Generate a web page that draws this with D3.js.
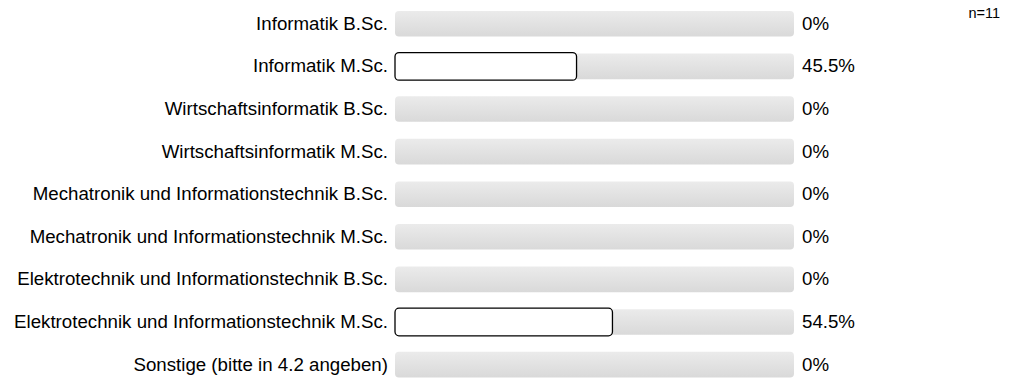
<script src="https://d3js.org/d3.v7.min.js"></script>
<style>
body { margin: 0; background: #fff; font-family: "Liberation Sans", Arial, sans-serif; }
svg text { font-family: "Liberation Sans", Arial, sans-serif; }
</style>
<svg id="chart" width="1017" height="379">
  <defs>
    <linearGradient id="track-grad" x1="0" y1="0" x2="0" y2="1">
      <stop offset="0%" stop-color="#ebebeb" />
      <stop offset="100%" stop-color="#d9d9d9" />
    </linearGradient>
  </defs>
</svg>
<script>
const categories = [
  "Informatik B.Sc.",
  "Informatik M.Sc.",
  "Wirtschaftsinformatik B.Sc.",
  "Wirtschaftsinformatik M.Sc.",
  "Mechatronik und Informationstechnik B.Sc.",
  "Mechatronik und Informationstechnik M.Sc.",
  "Elektrotechnik und Informationstechnik B.Sc.",
  "Elektrotechnik und Informationstechnik M.Sc.",
  "Sonstige (bitte in 4.2 angeben)"
];
const values = [0, 45.5, 0, 0, 0, 0, 0, 54.5, 0];
const valueLabels = ["0%", "45.5%", "0%", "0%", "0%", "0%", "0%", "54.5%", "0%"];
const nLabel = "n=11";

const svg = d3.select("#chart");
const trackLeft = 395, trackRight = 794;

const x = d3.scaleLinear().domain([0, 100]).range([trackLeft, trackRight]);
const y = d3.scaleBand().domain(categories).range([2.5, 385.9]).paddingInner(0.4).paddingOuter(0.2);

const rows = svg.selectAll("g.row").data(categories).join("g").attr("class", "row");

rows.append("rect")
  .attr("x", x(0))
  .attr("y", d => y(d))
  .attr("width", x(100) - x(0))
  .attr("height", y.bandwidth())
  .attr("rx", 4)
  .attr("fill", "url(#track-grad)");

rows.filter((d, i) => values[i] > 0).append("rect")
  .attr("x", x(0))
  .attr("y", d => y(d) - 1)
  .attr("width", (d) => x(values[categories.indexOf(d)]) - x(0))
  .attr("height", y.bandwidth() + 2)
  .attr("rx", 4)
  .attr("fill", "#fff")
  .attr("stroke", "#000")
  .attr("stroke-width", 1.3);

rows.append("text")
  .attr("x", trackLeft - 7)
  .attr("y", d => y(d) + y.bandwidth() / 2)
  .attr("dy", "0.32em")
  .attr("text-anchor", "end")
  .attr("font-size", 18.7)
  .attr("fill", "#000")
  .text(d => d);

rows.append("text")
  .attr("x", trackRight + 8)
  .attr("y", d => y(d) + y.bandwidth() / 2)
  .attr("dy", "0.32em")
  .attr("font-size", 18.7)
  .attr("fill", "#000")
  .text((d, i) => valueLabels[i]);

svg.append("text")
  .attr("x", 1000)
  .attr("y", 18)
  .attr("text-anchor", "end")
  .attr("font-size", 14.5)
  .attr("fill", "#000")
  .text(nLabel);
</script>
